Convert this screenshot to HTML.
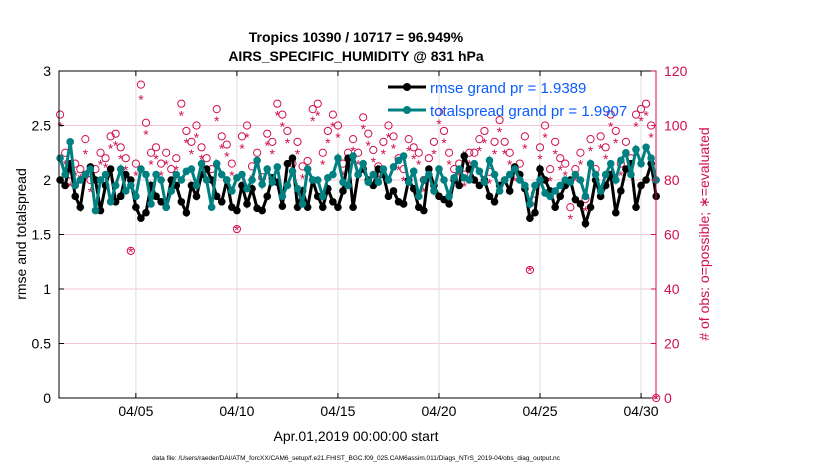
<!DOCTYPE html>
<html><head><meta charset="utf-8"><style>
body{margin:0;background:#fff;font-family:"Liberation Sans",sans-serif}
svg text{font-family:"Liberation Sans",sans-serif}
</style></head><body>
<svg id="chart" width="830" height="470" xmlns="http://www.w3.org/2000/svg">
<rect width="830" height="470" fill="#fff"/>
<g id="grid"></g>
<g id="series"></g>
<g id="axes"></g>
<text x="356" y="42" font-size="14" font-weight="bold" text-anchor="middle">Tropics 10390 / 10717 = 96.949%</text>
<text x="356" y="61" font-size="14" font-weight="bold" text-anchor="middle">AIRS_SPECIFIC_HUMIDITY @ 831 hPa</text>
<text x="356" y="441" font-size="14" text-anchor="middle">Apr.01,2019 00:00:00 start</text>
<text transform="translate(26,234) rotate(-90)" font-size="14" text-anchor="middle">rmse and totalspread</text>
<text transform="translate(709,234) rotate(-90)" font-size="14" fill="#d0104c" text-anchor="middle"># of obs: o=possible; ∗=evaluated</text>
<text x="356" y="460" font-size="6.5" text-anchor="middle">data file: /Users/raeder/DAI/ATM_forcXX/CAM6_setup/f.e21.FHIST_BGC.f09_025.CAM6assim.011/Diags_NTrS_2019-04/obs_diag_output.nc</text>
<g id="legend">
<line x1="388" y1="87" x2="426" y2="87" stroke="#000" stroke-width="3"/>
<circle cx="407" cy="87" r="4" fill="#000"/>
<text x="430" y="93" font-size="15" fill="#0a5cff">rmse grand pr = 1.9389</text>
<line x1="388" y1="110" x2="426" y2="110" stroke="#008080" stroke-width="3"/>
<circle cx="407" cy="110" r="4" fill="#008080"/>
<text x="430" y="116" font-size="15" fill="#0a5cff">totalspread grand pr = 1.9907</text>
</g>
</svg>
<script>
const rmse=[2.0,1.95,2.15,1.85,1.75,2.05,2.12,2.0,1.72,1.95,2.1,1.8,1.85,2.05,2.0,1.75,1.65,1.7,1.95,1.85,1.8,1.75,2.0,1.95,1.8,1.7,1.95,1.85,2.05,2.1,2.0,1.85,1.8,2.0,1.75,1.72,1.95,1.78,1.92,1.74,1.72,1.85,2.02,1.98,1.76,2.15,2.2,1.75,1.9,1.75,2.0,1.85,1.75,1.92,1.8,1.75,1.9,2.2,1.75,2.05,2.1,2.0,1.95,2.1,2.05,1.85,1.9,1.8,1.78,2.0,1.92,1.75,1.72,2.1,1.95,1.85,1.82,1.78,2.0,1.95,2.22,2.1,2.0,1.95,2.0,1.85,1.8,1.95,2.0,1.9,2.12,2.05,1.92,1.65,1.7,2.1,2.0,1.9,1.75,1.85,1.95,2.0,1.82,1.78,1.6,1.75,2.0,1.85,1.95,2.05,1.7,1.9,2.1,2.15,1.75,1.95,2.0,2.15,1.85];
const spread=[2.2,2.05,2.35,1.95,2.0,2.05,2.1,1.72,2.0,2.05,1.8,1.95,2.1,1.9,1.95,1.85,2.1,2.05,1.78,2.05,2.0,1.75,1.9,2.05,2.0,2.08,2.1,1.95,2.15,2.0,1.75,2.15,2.05,2.0,1.9,2.02,2.05,1.92,2.0,2.18,1.96,2.1,1.98,2.12,1.85,1.95,2.08,1.92,1.78,2.1,2.0,2.0,1.85,2.02,2.05,2.2,1.98,1.95,2.22,2.05,2.15,1.98,2.05,1.98,2.1,2.0,2.12,2.18,2.22,1.98,2.08,1.85,2.0,2.05,1.9,2.1,2.0,1.85,2.02,2.1,2.02,2.0,2.15,2.08,1.98,2.18,2.05,1.9,2.0,2.05,2.1,2.0,1.95,1.78,1.95,2.0,1.88,1.85,1.9,1.95,2.0,1.98,2.05,2.0,1.85,2.15,2.05,1.9,2.05,2.15,2.0,2.18,2.25,2.05,2.28,2.15,2.3,2.2,2.0];
const possible=[104,90,82,86,84,95,80,84,90,88,96,97,92,88,54,86,115,101,90,92,86,90,84,88,108,98,94,100,92,88,84,106,96,93,86,62,96,100,85,90,81,97,94,108,104,98,86,94,85,87,106,108,90,98,104,100,86,90,95,90,103,97,91,85,94,100,96,88,84,95,92,90,80,88,94,105,98,90,84,86,82,90,90,95,98,83,94,102,94,90,84,86,96,47,75,92,100,84,94,88,86,70,84,90,73,95,84,96,92,104,98,86,94,88,104,106,108,100,0];
const evaluated=[100,86,78,82,81,90,76,80,86,85,92,93,88,84,54,82,110,97,86,88,82,86,80,84,104,94,90,96,88,84,80,102,92,89,82,62,92,96,81,86,78,93,90,104,100,94,82,90,81,84,102,104,86,94,100,96,82,86,91,86,99,93,87,81,90,96,92,84,80,91,88,86,76,84,90,101,94,86,80,82,78,86,86,91,94,79,90,98,90,86,80,82,92,47,71,88,96,80,90,84,82,66,80,86,69,91,80,92,88,100,94,82,90,84,100,102,104,96,0];
const dayTicks=[4,9,14,19,24,29];
const tickLabels=["04/05","04/10","04/15","04/20","04/25","04/30"];
const leftTicks=[0,0.5,1,1.5,2,2.5,3];
const rightTicks=[0,20,40,60,80,100,120];
const L=59,R=656,T=71,B=398;
const t0=0.196,t1=29.74;
const xs=t=>L+(t-t0)/(t1-t0)*(R-L);
const yl=v=>B-v/3*(B-T);
const yr=v=>B-v/120*(B-T);
const tOf=i=>0.25+i*0.25;
const NS="http://www.w3.org/2000/svg";
function mk(tag,parent,attrs){const e=document.createElementNS(NS,tag);for(const k in attrs)e.setAttribute(k,attrs[k]);parent.appendChild(e);return e;}
const grid=document.getElementById('grid'),ser=document.getElementById('series'),ax=document.getElementById('axes');
rightTicks.forEach(v=>{if(v>0&&v<120){const l=mk('line',grid,{x1:L,x2:R,y1:yr(v),y2:yr(v),stroke:'#f4c6d4','stroke-width':1});

}});
dayTicks.forEach((d,i)=>{const x=xs(d);const l=mk('line',grid,{x1:x,x2:x,y1:T,y2:B,stroke:'#ddd','stroke-width':1});


mk('line',ax,{x1:x,x2:x,y1:B,y2:B-5,stroke:'#000'});mk('line',ax,{x1:x,x2:x,y1:T,y2:T+5,stroke:'#000'});
const tx=mk('text',ax,{x:x,y:B+18,'font-size':14,'text-anchor':'middle'});tx.textContent=tickLabels[i];

});
possible.forEach((v,i)=>{const c=mk('circle',ser,{cx:xs(tOf(i)),cy:yr(v),r:3.6,fill:'none',stroke:'#d0104c','stroke-width':1});

});
evaluated.forEach((v,i)=>{const s=mk('text',ser,{x:xs(tOf(i)),y:yr(v)+6,'font-size':14,fill:'#d0104c','text-anchor':'middle'});s.textContent='*';

});
function line(arr,col,name){const p=mk('polyline',ser,{points:arr.map((v,i)=>xs(tOf(i))+','+yl(v)).join(' '),fill:'none',stroke:col,'stroke-width':3});


arr.forEach((v,i)=>{const c=mk('circle',ser,{cx:xs(tOf(i)),cy:yl(v),r:3.8,fill:col});

});}
line(rmse,'#000','rmse');
line(spread,'#008080','spread');
mk('rect',ax,{x:L,y:T,width:R-L,height:B-T,fill:'none',stroke:'#000','stroke-width':1});
mk('line',ax,{x1:R,x2:R,y1:T,y2:B,stroke:'#d0104c','stroke-width':1});
leftTicks.forEach(v=>{mk('line',ax,{x1:L,x2:L+5,y1:yl(v),y2:yl(v),stroke:'#000'});const t=mk('text',ax,{x:L-8,y:yl(v)+5,'font-size':14,'text-anchor':'end'});t.textContent=v;

});
rightTicks.forEach(v=>{mk('line',ax,{x1:R-5,x2:R,y1:yr(v),y2:yr(v),stroke:'#d0104c'});const t=mk('text',ax,{x:R+8,y:yr(v)+5,'font-size':14,fill:'#d0104c'});t.textContent=v;

});
document.getElementById('chart').appendChild(document.getElementById('legend'));
</script>
</body></html>
